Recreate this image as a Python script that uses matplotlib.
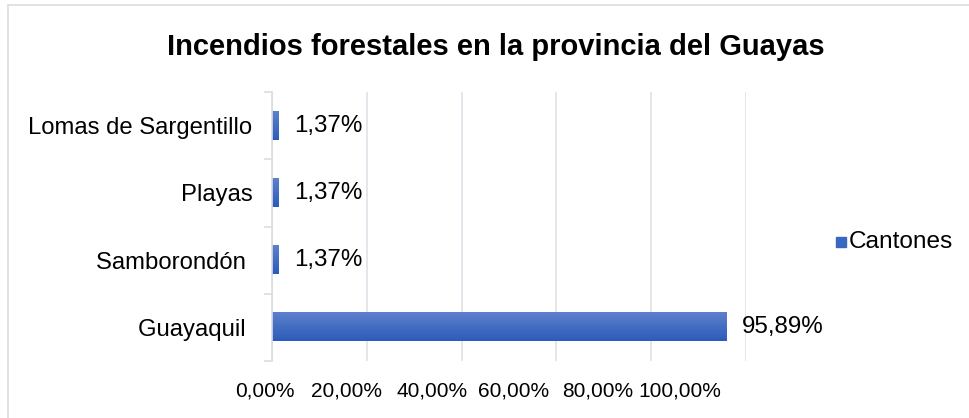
import numpy as np
import matplotlib
matplotlib.use("Agg")
import matplotlib.pyplot as plt
from matplotlib.patches import Rectangle
from matplotlib.ticker import FuncFormatter
from matplotlib.transforms import ScaledTranslation

plt.rcParams['font.family'] = ['Liberation Sans', 'DejaVu Sans']

# datos
cantones = ['Guayaquil ', 'Samborondón ', 'Playas', 'Lomas de Sargentillo']
porcentajes = [95.89, 1.37, 1.37, 1.37]
etiquetas = ['95,89%', '1,37%', '1,37%', '1,37%']
xticks = [0, 20, 40, 60, 80, 100]

def fmt(v, pos):
    return ('%.2f%%' % v).replace('.', ',')

fig = plt.figure(figsize=(9.69, 4.18), dpi=100)
ax = fig.add_axes([272/969, 1 - 361/418, (746 - 272)/969, (361 - 92)/418])

y = np.arange(len(cantones))
h = 0.42
bars = ax.barh(y, porcentajes, height=h, color='none')

# relleno degradado como en excel
grad = np.linspace(0, 1, 64).reshape(-1, 1)
cmap = matplotlib.colors.LinearSegmentedColormap.from_list('g', ['#5D80CC', '#2C5CB9'])
for b in bars:
    x0, y0 = b.get_x(), b.get_y()
    w, hh = b.get_width(), b.get_height()
    ax.imshow(grad, extent=(x0, x0 + w, y0, y0 + hh), cmap=cmap, aspect='auto',
              origin='upper', zorder=2, interpolation='bicubic')

for yi, v, t in zip(y, porcentajes, etiquetas):
    ax.annotate(t, (v, yi), xytext=(11, 0), textcoords='offset points',
                va='center', ha='left', fontsize=17.4)

ax.set_xlim(0, 100)
ax.set_ylim(-0.5, len(cantones) - 0.5)
ax.set_xticks(xticks)
ax.xaxis.set_major_formatter(FuncFormatter(fmt))
ax.set_yticks(y)
ax.set_yticklabels(cantones)
ax.set_yticks(np.arange(-0.5, len(cantones)), minor=True)
ax.tick_params(axis='y', which='major', length=0, pad=14, labelsize=17.2)
ax.tick_params(axis='y', which='minor', length=6, color='#D9DDE3', width=1.2)
ax.tick_params(axis='x', length=0, pad=15, labelsize=15)
ax.grid(axis='x', color='#DEE1E6', linewidth=1.2, zorder=0)
ax.set_axisbelow(True)
for s in ['top', 'right', 'bottom']:
    ax.spines[s].set_visible(False)
ax.spines['left'].set_color('#D9DDE3')
ax.spines['left'].set_linewidth(1.2)

# en el original las etiquetas del eje x quedan corridas a la izquierda
corr = [-7, -20, -30, -43, -54, -66]
fig.canvas.draw()
for lab, dx in zip(ax.get_xticklabels(), corr):
    lab.set_transform(lab.get_transform() + ScaledTranslation(dx / 100, 0, fig.dpi_scale_trans))

fig.text(496/969, 1 - 47/418, 'Incendios forestales en la provincia del Guayas',
         ha='center', va='center', fontsize=21, fontweight='bold')

# leyenda
fig.patches.append(Rectangle((836/969, 1 - 247/418), 10/969, 10/418,
                             transform=fig.transFigure, color='#3A67C2'))
fig.text(849/969, 1 - 242/418, 'Cantones', ha='left', va='center', fontsize=17.6)

# marco del grafico
fig.patches.append(Rectangle((8/969, -0.1), 1.1, 1.1 - 5/418, transform=fig.transFigure,
                             fill=False, edgecolor='#D9DDE3', linewidth=1.2))

fig.savefig('out.png', dpi=100)
